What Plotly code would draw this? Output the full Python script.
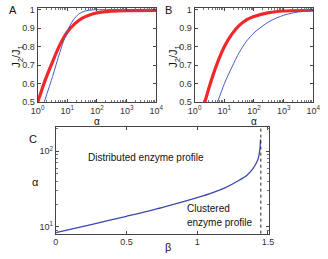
import plotly.graph_objects as go

# ---------------- data ----------------
# Panel A
a_red_alpha = [1, 1.8, 3.2, 5.6, 10, 18, 32, 56, 100, 316, 1000, 10000]
a_red_ratio = [0.5, 0.62, 0.72, 0.81, 0.88, 0.925, 0.955, 0.972, 0.983, 0.992, 0.995, 0.996]
a_blue_alpha = [1.66, 3.2, 5.6, 10, 16, 25, 40, 63, 100, 1000, 10000]
a_blue_ratio = [0.5, 0.64, 0.77, 0.885, 0.945, 0.978, 0.993, 0.998, 1.0, 1.0, 1.0]
# Panel B
b_red_alpha = [2.2, 3.2, 5.6, 10, 18, 32, 56, 100, 316, 1000, 10000]
b_red_ratio = [0.5, 0.59, 0.705, 0.80, 0.868, 0.915, 0.945, 0.963, 0.984, 0.993, 0.997]
b_blue_alpha = [5.9, 10, 18, 32, 56, 100, 316, 1000, 3162, 10000]
b_blue_ratio = [0.5, 0.6, 0.69, 0.77, 0.83, 0.875, 0.935, 0.97, 0.988, 0.995]
# Panel C
c_beta = [0, 0.25, 0.5, 0.75, 1.0, 1.12, 1.2, 1.3, 1.35, 1.39, 1.42, 1.435, 1.444, 1.448]
c_alpha = [8.4, 10.7, 13.8, 18.0, 24.3, 28.8, 33.1, 41.7, 47.9, 57.5, 70.8, 85.1, 109.6, 144.5]
beta_limit = 1.45

ab_ticks = [1, 10, 100, 1000, 10000]
ab_ticktext = ["10<sup>0</sup>", "10<sup>1</sup>", "10<sup>2</sup>", "10<sup>3</sup>", "10<sup>4</sup>"]
ratio_ticks = [0.5, 0.6, 0.7, 0.8, 0.9, 1]
ratio_ticktext = ["0.5", "0.6", "0.7", "0.8", "0.9", "1"]
c_xticks = [0, 0.5, 1, 1.5]
c_xticktext = ["0", "0.5", "1", "1.5"]
c_yticks = [10, 100]
c_yticktext = ["10<sup>1</sup>", "10<sup>2</sup>"]

RED = "#f0282a"
BLUE = "#4a5bc4"
FONT = "Liberation Sans, Arial, sans-serif"
W, H = 328, 259

def px(x):
    return x / W

def py(y):
    return 1 - y / H

fig = go.Figure()
fig.add_trace(go.Scatter(x=a_red_alpha, y=a_red_ratio, mode="lines",
                         line=dict(color=RED, width=3.2, shape="spline", smoothing=0.8),
                         xaxis="x", yaxis="y", showlegend=False))
fig.add_trace(go.Scatter(x=a_blue_alpha, y=a_blue_ratio, mode="lines",
                         line=dict(color=BLUE, width=1, shape="spline", smoothing=0.8),
                         xaxis="x", yaxis="y", showlegend=False))
fig.add_trace(go.Scatter(x=b_red_alpha, y=b_red_ratio, mode="lines",
                         line=dict(color=RED, width=3.2, shape="spline", smoothing=0.8),
                         xaxis="x2", yaxis="y2", showlegend=False))
fig.add_trace(go.Scatter(x=b_blue_alpha, y=b_blue_ratio, mode="lines",
                         line=dict(color=BLUE, width=1, shape="spline", smoothing=0.8),
                         xaxis="x2", yaxis="y2", showlegend=False))
fig.add_trace(go.Scatter(x=c_beta, y=c_alpha, mode="lines",
                         line=dict(color="#3a48b0", width=1.3, shape="spline", smoothing=0.8),
                         xaxis="x3", yaxis="y3", showlegend=False))

tickfont = dict(family=FONT, size=9, color="#333333")
common = dict(showline=True, linecolor="#444444", linewidth=1, mirror="allticks",
              ticks="inside", ticklen=3, tickcolor="#444444", showgrid=False,
              zeroline=False, tickfont=tickfont)

minor_log = [m * 10 ** k for k in range(0, 4) for m in range(2, 10)]

fig.update_layout(
    width=W, height=H, margin=dict(l=0, r=0, t=0, b=0),
    paper_bgcolor="white", plot_bgcolor="white",
    font=dict(family=FONT, size=9, color="#222222"),
    xaxis=dict(domain=[px(32), px(156)], type="log", range=[0, 4], anchor="y",
               tickvals=ab_ticks, ticktext=ab_ticktext,
               minor=dict(tickvals=minor_log, ticks="inside", ticklen=2, tickcolor="#777777"),
               **common),
    yaxis=dict(domain=[py(102.5), py(5)], range=[0.5, 1.01], anchor="x",
               tickvals=ratio_ticks, ticktext=ratio_ticktext, **common),
    xaxis2=dict(domain=[px(196), px(320)], type="log", range=[0, 4], anchor="y2",
                tickvals=ab_ticks, ticktext=ab_ticktext,
                minor=dict(tickvals=minor_log, ticks="inside", ticklen=2, tickcolor="#777777"),
                **common),
    yaxis2=dict(domain=[py(102.5), py(5)], range=[0.5, 1.01], anchor="x2",
                tickvals=ratio_ticks, ticktext=ratio_ticktext, **common),
    xaxis3=dict(domain=[px(51), px(274)], range=[0, 1.51], anchor="y3",
                tickvals=c_xticks, ticktext=c_xticktext, **common),
    yaxis3=dict(domain=[py(238), py(128)], type="log", range=[0.91, 2.32], anchor="x3",
                tickvals=c_yticks, ticktext=c_yticktext,
                minor=dict(tickvals=[m * 10 ** k for k in range(0, 3) for m in range(2, 10)],
                           ticks="inside", ticklen=2, tickcolor="#777777"),
                **common),
)

fig.add_shape(type="line", xref="x3", yref="y3 domain", x0=beta_limit, x1=beta_limit,
              y0=0, y1=1, line=dict(color="#222222", width=1, dash="dot"))

ann = []
def label(text, x, y, size=11, angle=0, xanchor="center"):
    ann.append(dict(text=text, x=px(x), y=py(y), xref="paper", yref="paper",
                    showarrow=False, xanchor=xanchor, yanchor="middle",
                    textangle=angle, font=dict(family=FONT, size=size, color="#111111")))

label("A", 6, 7, size=11)
label("B", 169, 7, size=11)
label("C", 27, 140, size=11)
label("J<sub>2</sub>/J<sub>1</sub>", 11, 55, size=11, angle=-90)
label("J<sub>2</sub>/J<sub>1</sub>", 175, 55, size=11, angle=-90)
label("α", 94, 122.5, size=10)
label("α", 258, 122.5, size=10)
label("α", 30, 185, size=11)
label("β", 168, 252, size=11)
label("Distributed enzyme profile", 145, 159, size=10)
label("Clustered", 186, 212, size=10, xanchor="left")
label("enzyme profile", 186, 226, size=10, xanchor="left")
fig.update_layout(annotations=ann)

fig.write_html("out.html", config={"displayModeBar": False},
               post_script="document.body.style.margin='0px';")
